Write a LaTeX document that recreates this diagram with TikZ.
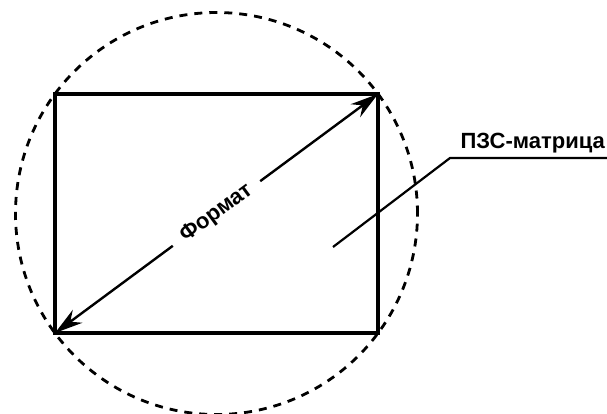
\documentclass[tikz,border=0pt]{standalone}
\usepackage{fontspec}
\setmainfont{Liberation Sans}
\usetikzlibrary{arrows.meta}
\usetikzlibrary{calc}

\begin{document}
\begin{tikzpicture}[x=1pt,y=-1pt,
  frame/.style={line width=3.4pt},
  outline/.style={line width=2.8pt, dash pattern=on 8pt off 7pt},
  dimline/.style={line width=2.4pt, -{Stealth[length=28pt,width=16pt,inset=9pt]}},
  leader/.style={line width=2.2pt},
  lbl/.style={font=\fontsize{22}{26}\selectfont\bfseries, inner sep=2pt}
]

%---------------------------------------
% Page size
%---------------------------------------
\useasboundingbox (0,0) rectangle (607,413);

% Matrix corners
\def\Xl{55}
\def\Xr{378}
\def\Yt{94}
\def\Yb{333}

\coordinate (tl) at (\Xl,\Yt);
\coordinate (tr) at (\Xr,\Yt);
\coordinate (bl) at (\Xl,\Yb);
\coordinate (br) at (\Xr,\Yb);
\coordinate (mid) at ($(bl)!0.5!(tr)$);

% ---- Image circle (dashed) ----
\draw[outline] (mid) circle[radius=201pt];

% ---- Matrix ----
\draw[frame] (tl) rectangle (br);

% ---- Diagonal (format) ----
\node[lbl, rotate=36.5, inner xsep=12pt] (fmt) at (mid) {Формат};
\draw[dimline] (fmt) -- (tr);
\draw[dimline] (fmt) -- (bl);

% ---- Callout ----
\coordinate (lead) at (333,247);
\coordinate (knee) at (450,158);
\node[lbl, anchor=south east, inner ysep=5pt] (ccd) at (607,158) {ПЗС-матрица};
\draw[leader] (lead) -- (knee) -- (ccd.south east);

\end{tikzpicture}
\end{document}
